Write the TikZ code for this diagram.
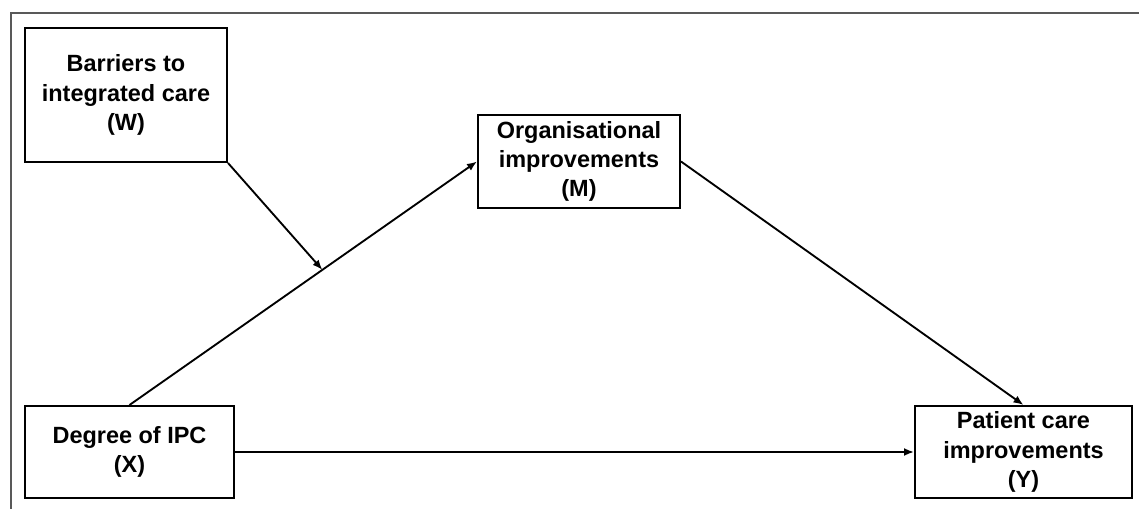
\documentclass[tikz,border=0pt]{standalone}
\usepackage{fontspec}
\setmainfont{Liberation Sans}
\usepackage{tikz}
\usetikzlibrary{positioning}
\usetikzlibrary{arrows.meta}

\begin{document}
\begin{tikzpicture}[x=0.75pt,y=-0.75pt,
  var/.style={draw,line width=1.5pt,align=center,inner sep=0pt,
    font=\fontsize{17.6}{22}\selectfont\bfseries},
  path/.style={line width=1.4pt,-{Latex[length=7.5pt,width=6pt]}},
  frame/.style={draw=black!65,line width=1.5pt}]
\useasboundingbox (0,0) rectangle (1139,509);
\draw[frame] (1139,13) -- (11,13) -- (11,509);
\node[var,minimum width=151.5pt,minimum height=100.5pt] (W) at (126,95) {Barriers to\\integrated care\\(W)};
\node[var,minimum width=151.5pt,minimum height=69.75pt] (M) at (579,161.5) {Organisational\\improvements\\(M)};
\node[var,minimum width=156.75pt,minimum height=69pt] (X) at (129.5,452) {Degree of IPC\\(X)};
\node[var,minimum width=162.75pt,minimum height=69pt] (Y) at (1023.5,452) {Patient care\\improvements\\(Y)};
\draw[path] (X.north) -- (M.west) coordinate[pos=0.555] (mod);
\draw[path] (M.east) -- (Y.north);
\draw[path] (X.east) -- (Y.west);
\draw[path] (W.south east) -- (mod);
\end{tikzpicture}
\end{document}
